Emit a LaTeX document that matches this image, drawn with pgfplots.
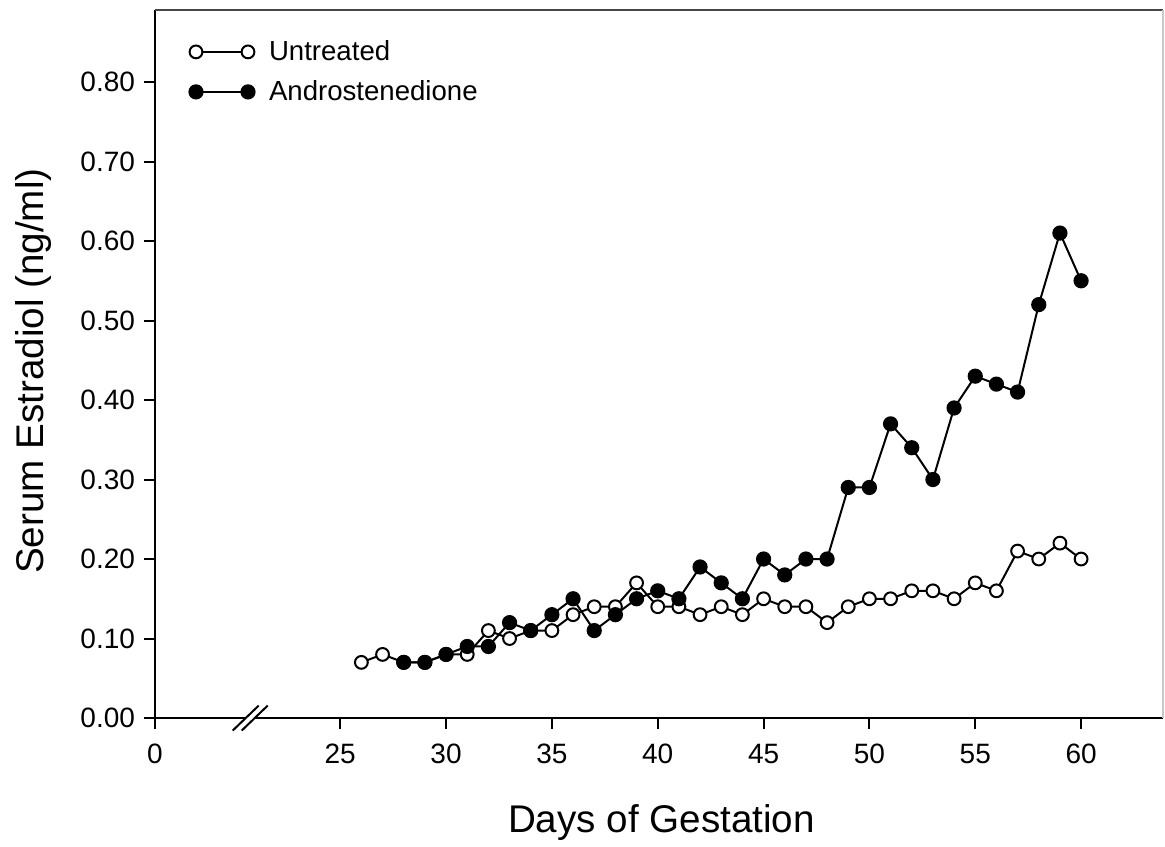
\documentclass[border=0pt]{standalone}
\usepackage{fontspec}
\setmainfont{Liberation Sans}
\usepackage{pgfplots}
\pgfplotsset{compat=1.18}
\usetikzlibrary{calc}
\definecolor{topgray}{RGB}{70,70,70}
\definecolor{rightgray}{RGB}{200,200,200}

\pgfplotstableread{
day val
26 0.07
27 0.08
28 0.07
29 0.07
30 0.08
31 0.08
32 0.11
33 0.10
34 0.11
35 0.11
36 0.13
37 0.14
38 0.14
39 0.17
40 0.14
41 0.14
42 0.13
43 0.14
44 0.13
45 0.15
46 0.14
47 0.14
48 0.12
49 0.14
50 0.15
51 0.15
52 0.16
53 0.16
54 0.15
55 0.17
56 0.16
57 0.21
58 0.20
59 0.22
60 0.20
}\untreated

\pgfplotstableread{
day val
28 0.07
29 0.07
30 0.08
31 0.09
32 0.09
33 0.12
34 0.11
35 0.13
36 0.15
37 0.11
38 0.13
39 0.15
40 0.16
41 0.15
42 0.19
43 0.17
44 0.15
45 0.20
46 0.18
47 0.20
48 0.20
49 0.29
50 0.29
51 0.37
52 0.34
53 0.30
54 0.39
55 0.43
56 0.42
57 0.41
58 0.52
59 0.61
60 0.55
}\andro

\begin{document}
\begin{tikzpicture}
\begin{axis}[
  scale only axis,
  width=504pt, height=354pt,
  xmin=16.25, xmax=63.87,
  ymin=0, ymax=0.8906,
  axis x line*=bottom, axis y line*=left,
  axis line style={-, line width=1pt, black},
  clip=false,
  xtick={16.25,25,30,35,40,45,50,55,60},
  xticklabels={0,25,30,35,40,45,50,55,60},
  ytick={0,0.1,0.2,0.3,0.4,0.5,0.6,0.7,0.8},
  tick align=outside,
  major tick length=5.5pt,
  tick style={line width=1pt, black},
  /pgf/number format/.cd, fixed, fixed zerofill, precision=2, assume math mode=true,
  /pgfplots/.cd,
  ticklabel style={font=\fontsize{14}{16}\selectfont},
  yticklabel style={xshift=-1pt},
  xticklabel style={yshift=-4pt},
  xlabel={Days of Gestation},
  ylabel={Serum Estradiol (ng/ml)},
  label style={font=\fontsize{19.3}{23}\selectfont},
  xlabel style={at={(axis description cs:0.5025,0)}, anchor=center, yshift=-52pt},
  ylabel style={at={(axis description cs:0,0.49)}, anchor=center, yshift=60.5pt},
  legend style={draw=none, fill=none, at={(axis description cs:0,1)}, anchor=north west,
    xshift=14pt, yshift=-11pt, font=\fontsize{13.8}{16}\selectfont,
    row sep=4.5pt},
  legend cell align=left,
  legend image code/.code={\draw[#1] plot coordinates {(0pt,0pt) (26pt,0pt)}; \path (34pt,0pt);},
]
\addplot[black, line width=1pt, mark=*, mark size=3.2pt,
  mark options={fill=white, draw=black, line width=1pt}] table[x=day,y=val] {\untreated};
\addlegendentry{Untreated}
\addplot[black, line width=1pt, mark=*, mark size=3.3pt,
  mark options={fill=black, draw=black}] table[x=day,y=val] {\andro};
\addlegendentry{Androstenedione}

% frame: top and right
\draw[topgray, line width=1pt] (rel axis cs:0,1) -- (rel axis cs:1,1);
\draw[rightgray, line width=0.8pt] (rel axis cs:1,1) -- (rel axis cs:1,0);
% axis break
\fill[white, shift={(axis cs:20.75,0)}] (-8.75pt,-6.25pt) -- (4.25pt,6.25pt) -- (8.75pt,6.25pt) -- (-4.25pt,-6.25pt) -- cycle;
\draw[black, line width=1pt, shift={(axis cs:20.75,0)}] (-8.75pt,-6.25pt) -- (4.25pt,6.25pt);
\draw[black, line width=1pt, shift={(axis cs:20.75,0)}] (-4.25pt,-6.25pt) -- (8.75pt,6.25pt);
\coordinate (BL) at (rel axis cs:0,0);
\coordinate (TR) at (rel axis cs:1,1);
\end{axis}
\pgfresetboundingbox
\path[use as bounding box] ($(BL)+(-77.5pt,-64pt)$) rectangle ($(TR)+(1pt,5pt)$);
\end{tikzpicture}
\end{document}
